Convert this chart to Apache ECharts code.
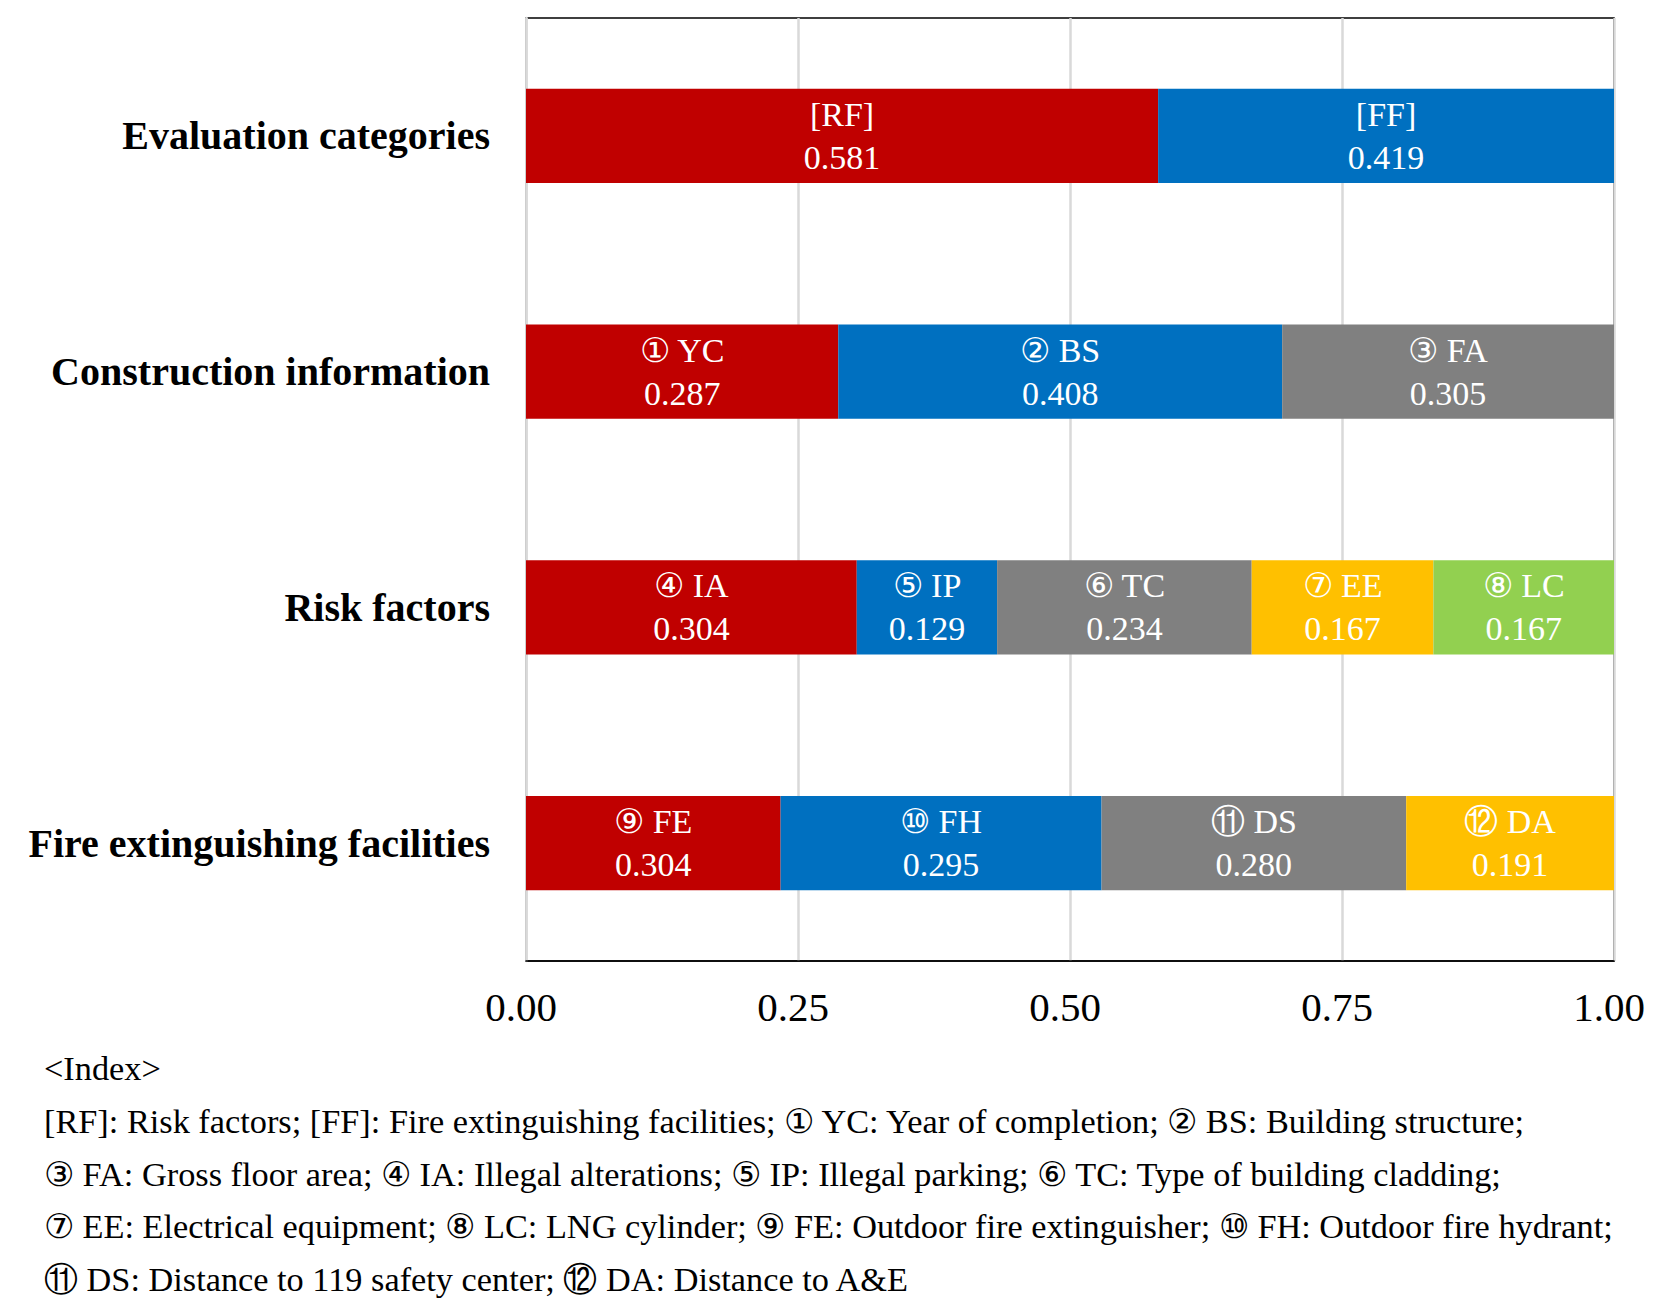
<!DOCTYPE html>
<html>
<head>
<meta charset="utf-8">
<script src="https://cdn.jsdelivr.net/npm/echarts@6/dist/echarts.min.js"></script>
<style>
  html, body { margin: 0; padding: 0; background: #fff; }
  #chart { width: 1661px; height: 1307px; }
</style>
</head>
<body>
<div id="chart"></div>
<script>
// ---- data ----
const categories = ['Evaluation categories', 'Construction information', 'Risk factors', 'Fire extinguishing facilities'];

const evalNames = ['[RF]', '[FF]'];
const evalValues = [0.581, 0.419];
const evalLabels = ['0.581', '0.419'];

const constructionNames = ['① YC', '② BS', '③ FA'];
const constructionValues = [0.287, 0.408, 0.305];
const constructionLabels = ['0.287', '0.408', '0.305'];

const riskNames = ['④ IA', '⑤ IP', '⑥ TC', '⑦ EE', '⑧ LC'];
const riskValues = [0.304, 0.129, 0.234, 0.167, 0.167];
const riskLabels = ['0.304', '0.129', '0.234', '0.167', '0.167'];

const fireNames = ['⑨ FE', '⑩ FH', '⑪ DS', '⑫ DA'];
// bar widths as drawn in the picture (first segment is drawn ~0.234 wide although printed 0.304)
const fireValues = [0.234, 0.295, 0.280, 0.191];
const fireLabels = ['0.304', '0.295', '0.280', '0.191'];

const xTicks = [0, 0.25, 0.5, 0.75, 1];

const indexLines = [
  '<Index>',
  '[RF]: Risk factors; [FF]: Fire extinguishing facilities; ① YC: Year of completion; ② BS: Building structure;',
  '③ FA: Gross floor area; ④ IA: Illegal alterations; ⑤ IP: Illegal parking; ⑥ TC: Type of building cladding;',
  '⑦ EE: Electrical equipment; ⑧ LC: LNG cylinder; ⑨ FE: Outdoor fire extinguisher; ⑩ FH: Outdoor fire hydrant;',
  '⑪ DS: Distance to 119 safety center; ⑫ DA: Distance to A&E'
];

// ---- styling ----
const segColors = ['#C00000', '#0070C0', '#808080', '#FFC000', '#92D050'];
const serif = '"Liberation Serif", "Times New Roman", "DejaVu Serif", serif';

const rows = [
  { names: evalNames, values: evalValues, labels: evalLabels },
  { names: constructionNames, values: constructionValues, labels: constructionLabels },
  { names: riskNames, values: riskValues, labels: riskLabels },
  { names: fireNames, values: fireValues, labels: fireLabels }
];
const maxSeg = Math.max(...rows.map(r => r.values.length));

const series = [];
for (let i = 0; i < maxSeg; i++) {
  series.push({
    type: 'bar',
    stack: 'total',
    barWidth: '40%',
    silent: true,
    data: rows.map(r => i < r.values.length
      ? { value: r.values[i], itemStyle: { color: segColors[i] } }
      : { value: '-' }),
    label: {
      show: true,
      position: 'inside',
      color: '#fff',
      fontFamily: serif,
      fontSize: 34,
      lineHeight: 43,
      formatter: p => {
        const r = rows[p.dataIndex];
        return r.names[i] + '\n' + r.labels[i];
      }
    }
  });
}

const chart = echarts.init(document.getElementById('chart'), null, { renderer: 'svg' });

const graphics = indexLines.map((t, k) => ({
  type: 'text',
  x: 44,
  y: 1068 + k * 52.8,
  style: {
    text: t,
    fill: '#000',
    font: '34.3px ' + serif,
    verticalAlign: 'middle',
    align: 'left'
  }
}));

chart.setOption({
  animation: false,
  backgroundColor: '#fff',
  grid: {
    left: 526, right: 47, top: 18, bottom: 346,
    show: true, borderColor: '#000', borderWidth: 1.5, backgroundColor: 'transparent'
  },
  xAxis: {
    type: 'value',
    min: xTicks[0], max: xTicks[xTicks.length - 1], interval: 0.25,
    axisLine: { show: true, lineStyle: { color: '#000', width: 1.5 } },
    axisTick: { show: false },
    splitLine: { show: true, lineStyle: { color: '#d9d9d9', width: 2.5 } },
    axisLabel: {
      color: '#000', fontFamily: serif, fontSize: 41, margin: 25,
      padding: [0, 10, 0, 0],
      formatter: v => v.toFixed(2)
    }
  },
  yAxis: {
    type: 'category',
    data: categories,
    inverse: true,
    axisLine: { show: true, lineStyle: { color: '#d9d9d9', width: 2.5 } },
    axisTick: { show: false },
    axisLabel: {
      color: '#000', fontFamily: serif, fontWeight: 'bold', fontSize: 40, margin: 36
    }
  },
  series: series,
  graphic: graphics
});
</script>
</body>
</html>
